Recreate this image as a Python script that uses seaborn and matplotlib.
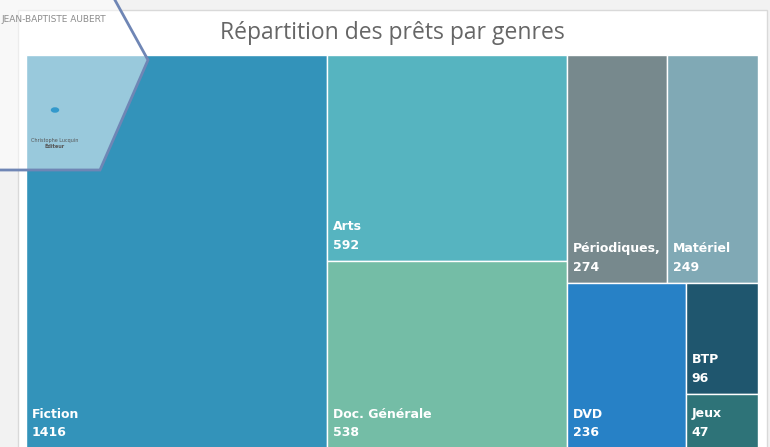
import matplotlib.pyplot as plt
import seaborn as sns
from matplotlib.patches import Polygon, Rectangle

sns.set_theme(style="white")

# data
genres = ["Fiction", "Arts", "Doc. Générale", "Périodiques,", "Matériel", "DVD", "BTP", "Jeux"]
prets = [1416, 592, 538, 274, 249, 236, 96, 47]
colors = ["#3393BA", "#56B4C0", "#74BDA6", "#77898D", "#80A9B5", "#2781C6", "#1F566E", "#2E7378"]
# nesting of the treemap (slice direction alternates at each level)
layout = [0, [1, 2], [[3, 4], [5, [6, 7]]]]

value = dict(zip(range(len(prets)), prets))


def total(node):
    if isinstance(node, list):
        return sum(total(n) for n in node)
    return value[node]


def slice_dice(node, x, y, w, h, horizontal, out):
    if not isinstance(node, list):
        out.append((node, x, y, w, h))
        return
    t = total(node)
    pos = 0.0
    for child in node:
        frac = total(child) / t
        if horizontal:
            slice_dice(child, x + pos * w, y, w * frac, h, not horizontal, out)
        else:
            # stack from the top down
            slice_dice(child, x, y + h * (1 - pos - frac), w, h * frac, not horizontal, out)
        pos += frac


W, H = 770, 447
fig = plt.figure(figsize=(W / 100, H / 100), dpi=100)
fig.patch.set_facecolor("#F2F2F2")

# card
fig.patches.append(Rectangle((18 / W, -0.01), 749 / W, 1 - 10 / H + 0.01, transform=fig.transFigure,
                             facecolor="white", edgecolor="#D9D9D9", lw=1, zorder=-1))
fig.text(392 / W, 1 - 33 / H, "Répartition des prêts par genres", ha="center", va="center",
         fontsize=16.5, color="#666666", family="Open Sans")

ax = fig.add_axes([26 / W, -1 / H, 732 / W, 393 / H])
rects = []
slice_dice(layout, 0, 0, 1, 1, True, rects)
for i, x, y, w, h in rects:
    ax.bar(x, h, width=w, bottom=y, align="edge", color=colors[i], edgecolor="white", linewidth=1)
    ax.annotate(f"{genres[i]}\n{prets[i]}", xy=(x, y), xytext=(6, 9), textcoords="offset pixels",
                ha="left", va="bottom", color="white", fontsize=9, fontweight="bold",
                family="DejaVu Sans", linespacing=1.55)
ax.set_xlim(0, 1)
ax.set_ylim(0, 1)
ax.axis("off")

# overlay from the screenshot (logo hexagon)
hexa = [(110 / W, 1.02), (148 / W, 1 - 60 / H), (100 / W, 1 - 170 / H), (-0.02, 1 - 170 / H), (-0.02, 1.02)]
fig.patches.append(Polygon(hexa, closed=True, transform=fig.transFigure, facecolor=(1, 1, 1, 0.5),
                           edgecolor="#6F86B5", lw=2, zorder=5))
fig.text(1 / W, 1 - 19 / H, "JEAN-BAPTISTE AUBERT", fontsize=6.5, color="#8C8C8C",
         va="center", ha="left", zorder=6)
fig.text(55 / W, 1 - 142 / H, "Christophe Lucquin", fontsize=3.5, color="#555555", ha="center", zorder=6)
fig.text(55 / W, 1 - 148 / H, "Éditeur", fontsize=3.5, color="#555555", ha="center",
         fontweight="bold", zorder=6)
fig.patches.append(plt.Circle((55 / W, 1 - 110 / H), 3.5 / W, transform=fig.transFigure,
                              color="#3399CC", zorder=6))

fig.savefig("out.png", dpi=100)
